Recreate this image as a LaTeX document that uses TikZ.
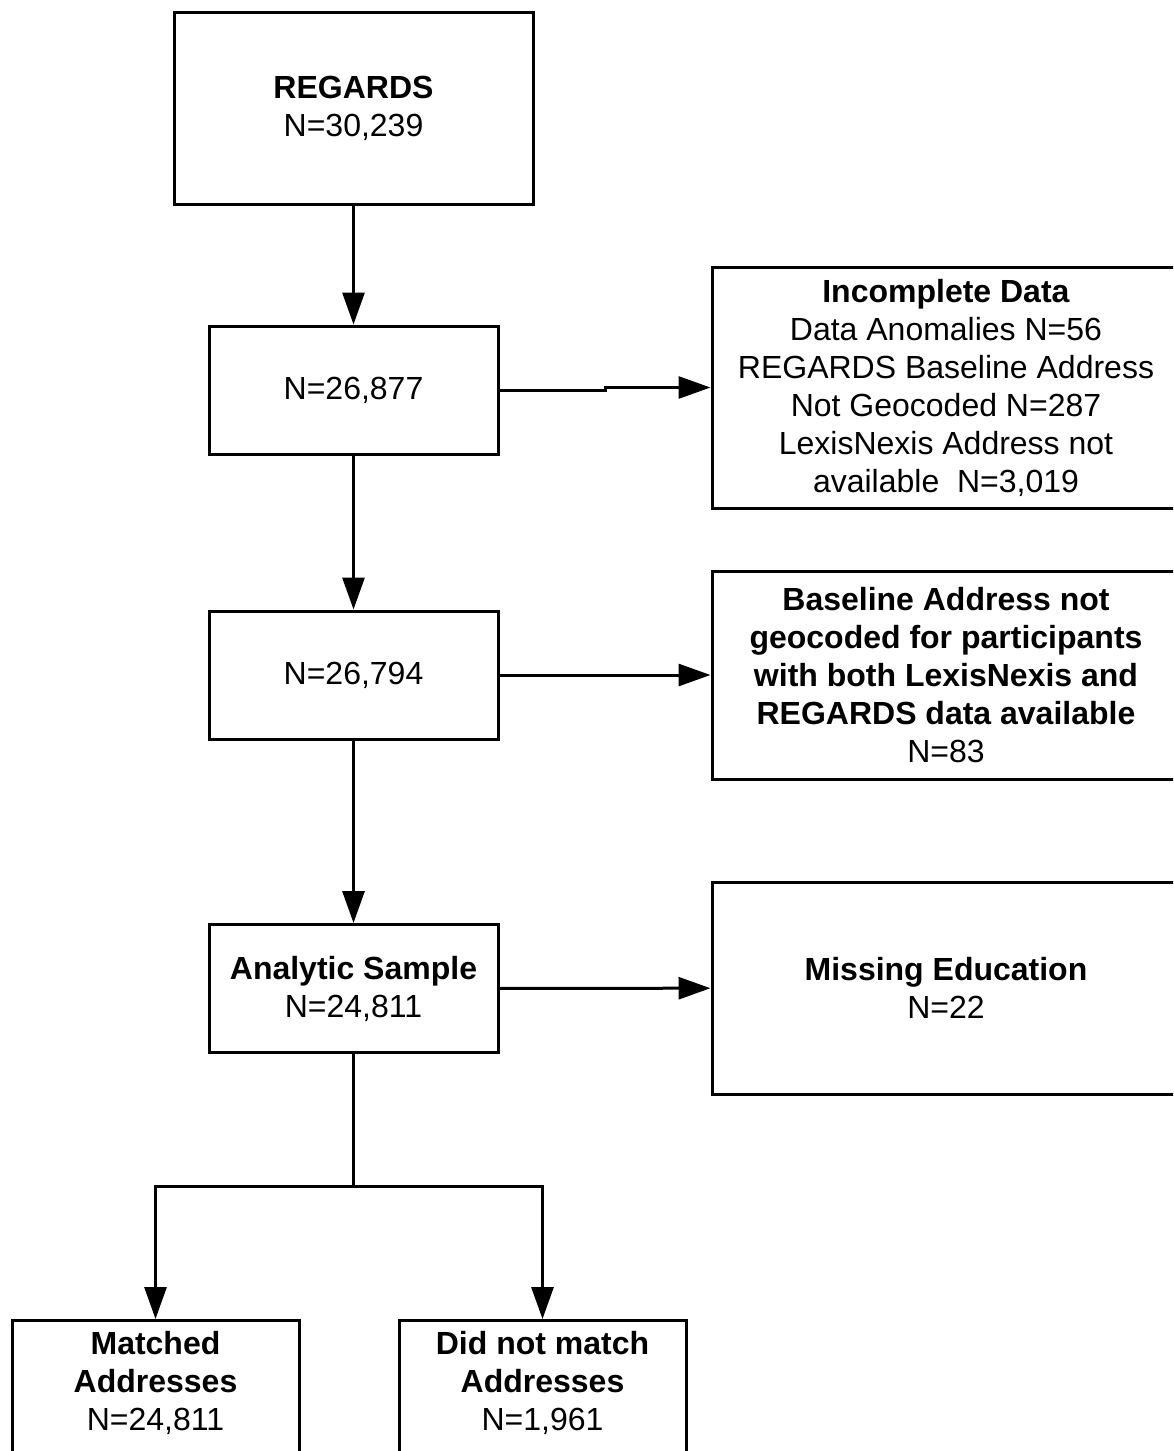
\documentclass[tikz,border=0pt]{standalone}
\usepackage{fontspec}
\setmainfont{Liberation Sans}
\usetikzlibrary{arrows.meta}

\begin{document}
\begin{tikzpicture}[x=0.5pt, y=-0.5pt, line width=1.5pt,
    every node/.style={font=\fontsize{16}{19}\selectfont},
    >={Triangle[length=16pt,width=11pt]}]
  \tikzset{box/.style={draw, align=center, inner sep=0pt, minimum width=144.5pt, minimum height=64pt},
           sidebox/.style={box, minimum width=234pt},
           endbox/.style={box, anchor=north, minimum width=143.5pt, text height=55pt, text depth=60pt}}
  \useasboundingbox (0,0) rectangle (1173,1451);
  \clip (0,0) rectangle (1173,1451);
  % main column
  \node[box, minimum width=179.5pt, minimum height=96pt] (regards) at (353.5,108) {\textbf{REGARDS}\\N=30,239};
  \node[box] (all) at (353.5,390) {N=26,877};
  \node[box] (complete) at (353.5,675) {N=26,794};
  \node[box] (analytic) at (353.5,988.5) {\textbf{Analytic Sample}\\N=24,811};
  % exclusions
  \node[sidebox, minimum height=120.5pt] (incomplete) at (946,387.5) {\textbf{Incomplete Data}\\Data Anomalies N=56\\REGARDS Baseline Address\\Not Geocoded N=287\\LexisNexis Address not\\available~ N=3,019};
  \node[sidebox, minimum height=104pt] (nogeo) at (946,675) {\textbf{Baseline Address not}\\\textbf{geocoded for participants}\\\textbf{with both LexisNexis and}\\\textbf{REGARDS data available}\\N=83};
  \node[sidebox, minimum height=106pt] (noedu) at (946,988) {\textbf{Missing Education}\\N=22};
  % outcome
  \node[endbox] (matched) at (155.5,1319) {\textbf{Matched}\\\textbf{Addresses}\\N=24,811};
  \node[endbox] (unmatched) at (542.5,1319) {\textbf{Did not match}\\\textbf{Addresses}\\N=1,961};
  \coordinate (jog) at (605,390);
  \coordinate (split) at (353.5,1186);
  \draw[->] (regards) -- (all);
  \draw[->] (all) -- (complete);
  \draw[->] (complete) -- (analytic);
  \draw[->] (all.east) -- (jog) |- (incomplete.west);
  \draw[->] (complete) -- (nogeo);
  \draw[->] (analytic) -- (noedu);
  \draw (analytic) -- (split);
  \draw[->] (split) -| (matched.north);
  \draw[->] (split) -| (unmatched.north);
\end{tikzpicture}
\end{document}
